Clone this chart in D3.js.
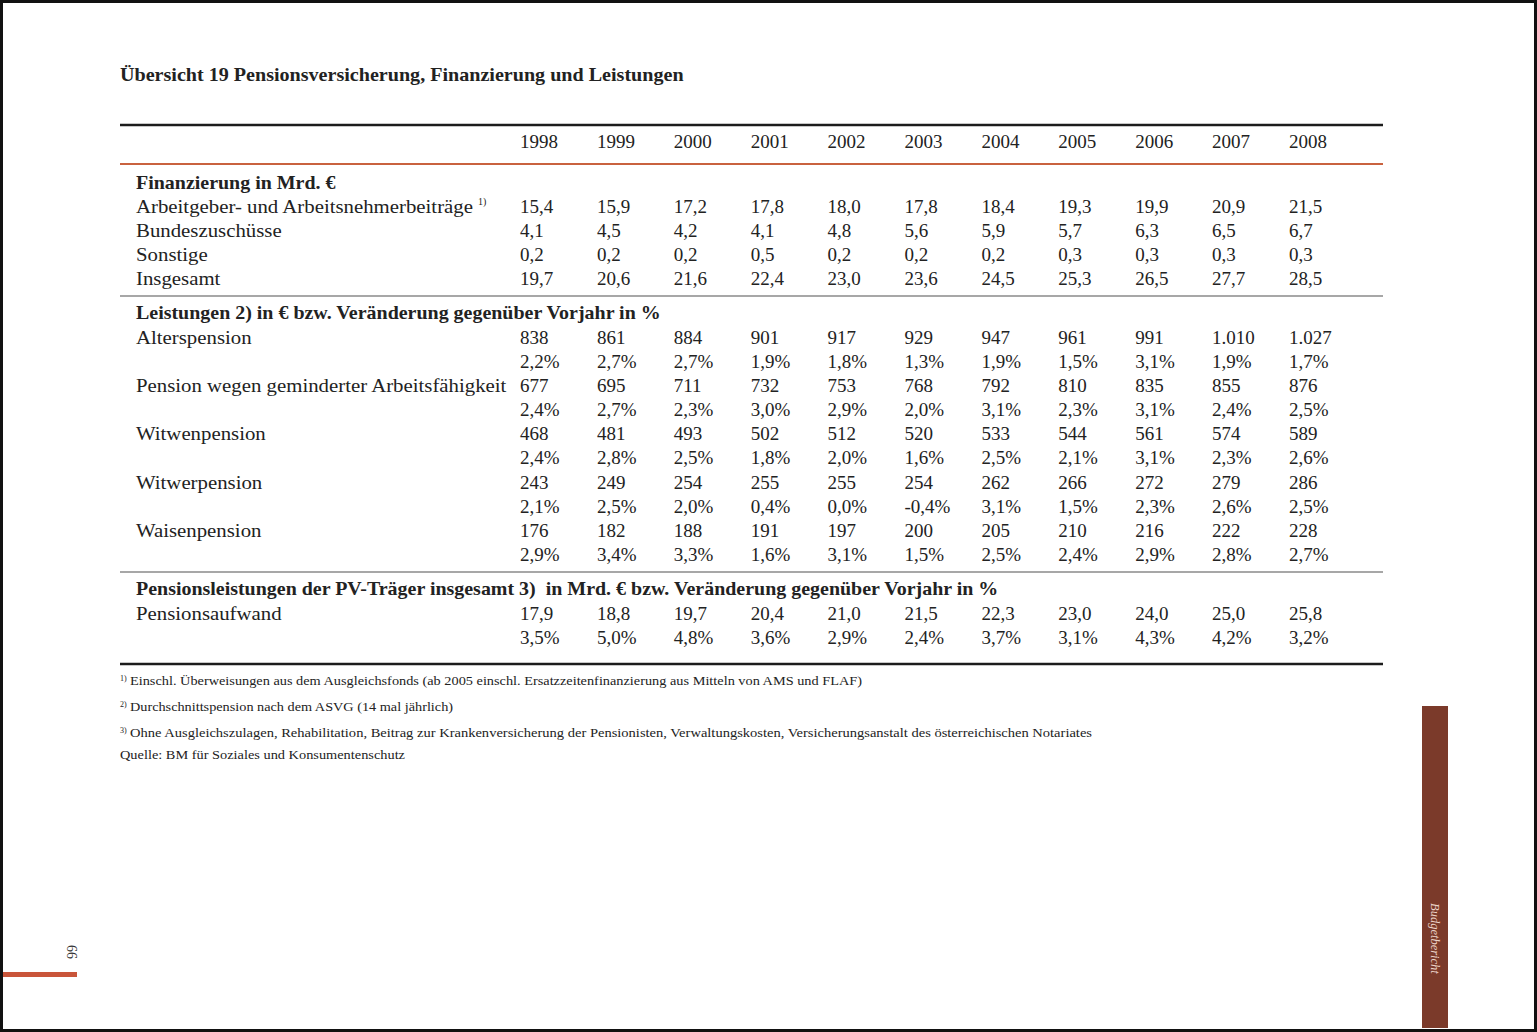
<!DOCTYPE html>
<html>
<head>
<meta charset="utf-8">
<script src="https://cdn.jsdelivr.net/npm/d3@7"></script>
<style>
  html, body { margin: 0; padding: 0; background: #fff; }
  svg { display: block; }
  text { font-family: "Liberation Serif", "Times New Roman", serif; fill: #222; }
</style>
</head>
<body>
<svg id="chart" width="1537" height="1032"></svg>
<script>
// ---------- data ----------
const years = [1998, 1999, 2000, 2001, 2002, 2003, 2004, 2005, 2006, 2007, 2008];

const beitraege   = [15.4, 15.9, 17.2, 17.8, 18.0, 17.8, 18.4, 19.3, 19.9, 20.9, 21.5];
const bundes      = [4.1, 4.5, 4.2, 4.1, 4.8, 5.6, 5.9, 5.7, 6.3, 6.5, 6.7];
const sonstige    = [0.2, 0.2, 0.2, 0.5, 0.2, 0.2, 0.2, 0.3, 0.3, 0.3, 0.3];
const insgesamt   = [19.7, 20.6, 21.6, 22.4, 23.0, 23.6, 24.5, 25.3, 26.5, 27.7, 28.5];

const alters      = [838, 861, 884, 901, 917, 929, 947, 961, 991, 1010, 1027];
const altersPct   = [2.2, 2.7, 2.7, 1.9, 1.8, 1.3, 1.9, 1.5, 3.1, 1.9, 1.7];
const gemindert   = [677, 695, 711, 732, 753, 768, 792, 810, 835, 855, 876];
const gemindertPct= [2.4, 2.7, 2.3, 3.0, 2.9, 2.0, 3.1, 2.3, 3.1, 2.4, 2.5];
const witwen      = [468, 481, 493, 502, 512, 520, 533, 544, 561, 574, 589];
const witwenPct   = [2.4, 2.8, 2.5, 1.8, 2.0, 1.6, 2.5, 2.1, 3.1, 2.3, 2.6];
const witwer      = [243, 249, 254, 255, 255, 254, 262, 266, 272, 279, 286];
const witwerPct   = [2.1, 2.5, 2.0, 0.4, 0.0, -0.4, 3.1, 1.5, 2.3, 2.6, 2.5];
const waisen      = [176, 182, 188, 191, 197, 200, 205, 210, 216, 222, 228];
const waisenPct   = [2.9, 3.4, 3.3, 1.6, 3.1, 1.5, 2.5, 2.4, 2.9, 2.8, 2.7];

const aufwand     = [17.9, 18.8, 19.7, 20.4, 21.0, 21.5, 22.3, 23.0, 24.0, 25.0, 25.8];
const aufwandPct  = [3.5, 5.0, 4.8, 3.6, 2.9, 2.4, 3.7, 3.1, 4.3, 4.2, 3.2];

const titleText = "Übersicht 19 Pensionsversicherung, Finanzierung und Leistungen";
const section1 = "Finanzierung in Mrd. €";
const section2 = "Leistungen 2) in € bzw. Veränderung gegenüber Vorjahr in %";
const section3 = "Pensionsleistungen der PV-Träger insgesamt 3)\u00a0 in Mrd. € bzw. Veränderung gegenüber Vorjahr in %";
const footnotes = [
  ["1)", "Einschl. Überweisungen aus dem Ausgleichsfonds (ab 2005 einschl. Ersatzzeitenfinanzierung aus Mitteln von AMS und FLAF)"],
  ["2)", "Durchschnittspension nach dem ASVG (14 mal jährlich)"],
  ["3)", "Ohne Ausgleichszulagen, Rehabilitation, Beitrag zur Krankenversicherung der Pensionisten, Verwaltungskosten, Versicherungsanstalt des österreichischen Notariates"],
  ["", "Quelle: BM für Soziales und Konsumentenschutz"]
];
const sideLabel = "Budgetbericht";
const pageNumber = "66";

// ---------- formatting ----------
const de = d3.formatLocale({decimal: ",", thousands: ".", grouping: [3], currency: ["", " €"], minus: "-"});
const fMrd = de.format(".1f");
const fInt = de.format(",d");
const fPct = v => de.format(".1f")(v) + "%";

// ---------- table structure ----------
const rows = [
  {type: "header", y: 148},
  {type: "section", text: section1, y: 189},
  {type: "row", label: "Arbeitgeber- und Arbeitsnehmerbeiträge", sup: "1)", values: beitraege, fmt: fMrd, y: 213},
  {type: "row", label: "Bundeszuschüsse", values: bundes, fmt: fMrd, y: 237},
  {type: "row", label: "Sonstige", values: sonstige, fmt: fMrd, y: 261},
  {type: "row", label: "Insgesamt", values: insgesamt, fmt: fMrd, y: 285},
  {type: "section", text: section2, y: 319},
  {type: "row", label: "Alterspension", values: alters, fmt: fInt, y: 344},
  {type: "row", label: "", values: altersPct, fmt: fPct, y: 368},
  {type: "row", label: "Pension wegen geminderter Arbeitsfähigkeit", values: gemindert, fmt: fInt, y: 392},
  {type: "row", label: "", values: gemindertPct, fmt: fPct, y: 416},
  {type: "row", label: "Witwenpension", values: witwen, fmt: fInt, y: 440},
  {type: "row", label: "", values: witwenPct, fmt: fPct, y: 464},
  {type: "row", label: "Witwerpension", values: witwer, fmt: fInt, y: 489},
  {type: "row", label: "", values: witwerPct, fmt: fPct, y: 513},
  {type: "row", label: "Waisenpension", values: waisen, fmt: fInt, y: 537},
  {type: "row", label: "", values: waisenPct, fmt: fPct, y: 561},
  {type: "section", text: section3, y: 595},
  {type: "row", label: "Pensionsaufwand", values: aufwand, fmt: fMrd, y: 620},
  {type: "row", label: "", values: aufwandPct, fmt: fPct, y: 644}
];

// ---------- drawing ----------
const svg = d3.select("#chart");
const W = 1537, H = 1032;

svg.append("rect").attr("x", 0).attr("y", 0).attr("width", W).attr("height", H).attr("fill", "#fff");

const tableLeft = 120, tableRight = 1383, labelX = 136;
const x = d3.scaleBand().domain(years).range([520, 520 + 11 * 76.9]).paddingInner(0).paddingOuter(0);

// widen text to mimic the wider book face
function widen(sel, k) {
  const w = sel.node().getComputedTextLength();
  sel.attr("textLength", w * k).attr("lengthAdjust", "spacingAndGlyphs");
  return w * k;
}

// title
widen(svg.append("text").attr("x", 120).attr("y", 81)
  .attr("font-size", 19.5).attr("font-weight", "bold").text(titleText), 1.03);

// rules
const rules = [
  {y: 125, color: "#1c1c1c", w: 2.5},
  {y: 164, color: "#c9623f", w: 2},
  {y: 296, color: "#8a8a8a", w: 1.3},
  {y: 572, color: "#8a8a8a", w: 1.3},
  {y: 664, color: "#1c1c1c", w: 2.5}
];
svg.selectAll("line.rule").data(rules).join("line").attr("class", "rule")
  .attr("x1", tableLeft).attr("x2", tableRight)
  .attr("y1", d => d.y).attr("y2", d => d.y)
  .attr("stroke", d => d.color).attr("stroke-width", d => d.w);

const fs = 19;
rows.forEach(r => {
  if (r.type === "header") {
    svg.append("g").selectAll("text").data(years).join("text")
      .attr("x", d => x(d)).attr("y", r.y).attr("font-size", fs).text(d => d);
  } else if (r.type === "section") {
    widen(svg.append("text").attr("x", labelX).attr("y", r.y)
      .attr("font-size", fs).attr("font-weight", "bold").text(r.text), 1.05);
  } else {
    if (r.label) {
      const t = svg.append("text").attr("x", labelX).attr("y", r.y).attr("font-size", fs).text(r.label);
      const w = widen(t, 1.095);
      if (r.sup) {
        svg.append("text").attr("x", labelX + w + 5).attr("y", r.y - 8)
          .attr("font-size", 10).text(r.sup);
      }
    }
    svg.append("g").selectAll("text").data(years.map((yr, i) => ({yr, v: r.values[i]}))).join("text")
      .attr("x", d => x(d.yr)).attr("y", r.y).attr("font-size", fs).text(d => r.fmt(d.v));
  }
});

// footnotes
const fnY = [685, 711, 737, 759];
const fnWidths = [742, 333, 972, 285];
footnotes.forEach((f, i) => {
  const g = svg.append("g");
  let start = 120;
  if (f[0]) {
    g.append("text").attr("x", 120).attr("y", fnY[i] - 4).attr("font-size", 8).text(f[0]);
    start = 130;
  }
  g.append("text").attr("x", start).attr("y", fnY[i]).attr("font-size", 13)
    .attr("textLength", fnWidths[i] - (start - 120)).attr("lengthAdjust", "spacingAndGlyphs")
    .text(f[1]);
});

// side bar
svg.append("rect").attr("x", 1422).attr("y", 706).attr("width", 26).attr("height", 322).attr("fill", "#7b3a2a");
svg.append("text").attr("transform", "translate(1431,903) rotate(90)")
  .attr("font-size", 12.5).attr("font-style", "italic").style("fill", "#ecd3c9").text(sideLabel);

// page number and accent line
svg.append("text").attr("transform", "translate(67,945) rotate(90)")
  .attr("font-size", 14).style("fill", "#333").text(pageNumber);
svg.append("rect").attr("x", 3).attr("y", 972).attr("width", 74).attr("height", 5).attr("fill", "#c9553a");

// page frame
svg.append("rect").attr("x", 1.5).attr("y", 1.5).attr("width", W - 3).attr("height", H - 3)
  .attr("fill", "none").attr("stroke", "#111").attr("stroke-width", 3);
</script>
</body>
</html>
